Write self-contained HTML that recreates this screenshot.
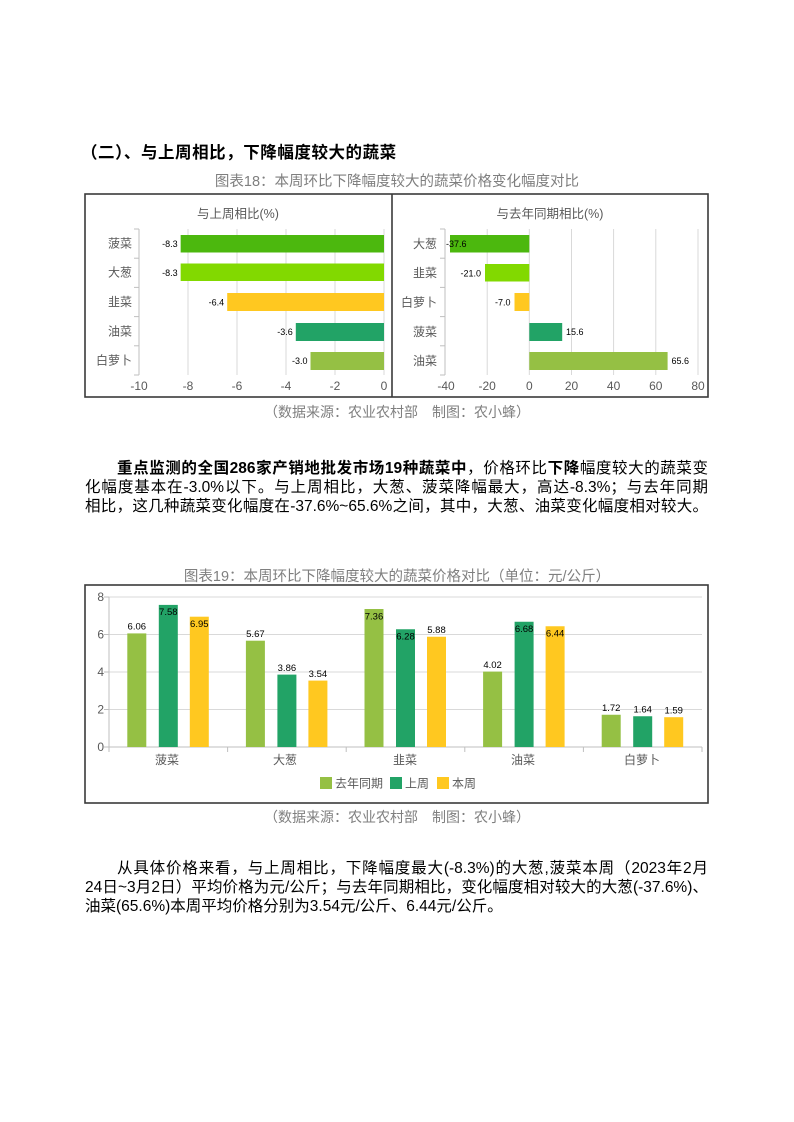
<!DOCTYPE html>
<html><head><meta charset="utf-8">
<style>
html,body{margin:0;padding:0;}
body{width:794px;height:1122px;background:#fff;position:relative;overflow:hidden;font-family:"Liberation Sans","Noto Sans CJK SC",sans-serif;}
.t{position:absolute;white-space:nowrap;color:#000;}
.j{position:absolute;font-size:15.5px;line-height:19px;height:19px;text-align:justify;text-align-last:justify;color:#000;}
.cap{position:absolute;left:0;width:794px;text-align:center;color:#7f7f7f;white-space:nowrap;}
svg{position:absolute;left:0;top:0;}
</style></head>
<body>

<div class="t" style="left:81px;top:143px;font-size:16.5px;line-height:20px;font-weight:bold;letter-spacing:0.55px;">（二）、与上周相比，下降幅度较大的蔬菜</div>

<div class="cap" style="top:173px;font-size:14.5px;line-height:18px;">图表18：本周环比下降幅度较大的蔬菜价格变化幅度对比</div>
<div class="cap" style="top:403px;font-size:14px;line-height:18px;">（数据来源：农业农村部　制图：农小蜂）</div>

<div class="j" style="left:117px;top:459px;width:591px;"><b>重点监测的全国286家产销地批发市场19种蔬菜中</b>，价格环比<b>下降</b>幅度较大的蔬菜变</div>
<div class="j" style="left:85px;top:478px;width:623px;">化幅度基本在-3.0%以下。与上周相比，大葱、菠菜降幅最大，高达-8.3%；与去年同期</div>
<div class="j" style="left:85px;top:497px;width:623px;">相比，这几种蔬菜变化幅度在-37.6%~65.6%之间，其中，大葱、油菜变化幅度相对较大。</div>

<div class="cap" style="top:568px;font-size:14.5px;line-height:18px;">图表19：本周环比下降幅度较大的蔬菜价格对比（单位：元/公斤）</div>
<div class="cap" style="top:808px;font-size:14px;line-height:18px;">（数据来源：农业农村部　制图：农小蜂）</div>

<div class="j" style="left:117px;top:859px;width:591px;">从具体价格来看，与上周相比，下降幅度最大(-8.3%)的大葱,菠菜本周（2023年2月</div>
<div class="j" style="left:85px;top:878px;width:623px;">24日~3月2日）平均价格为元/公斤；与去年同期相比，变化幅度相对较大的大葱(-37.6%)、</div>
<div class="t" style="left:85px;top:897px;font-size:15.5px;line-height:19px;">油菜(65.6%)本周平均价格分别为3.54元/公斤、6.44元/公斤。</div>

<svg width="794" height="1122" viewBox="0 0 794 1122" xmlns="http://www.w3.org/2000/svg" font-family="Liberation Sans, Noto Sans CJK SC, sans-serif">
  <!-- Chart 18 box -->
  <rect x="85" y="194" width="623" height="203" fill="none" stroke="#3a3a3a" stroke-width="1.6"/>
  <line x1="392" y1="194" x2="392" y2="397" stroke="#3a3a3a" stroke-width="1.6"/>

  <!-- Left panel -->
  <text x="238" y="218" font-size="12.5" fill="#595959" text-anchor="middle">与上周相比(%)</text>
  <g stroke="#d9d9d9" stroke-width="1">
    <line x1="188" y1="229" x2="188" y2="375"/>
    <line x1="237" y1="229" x2="237" y2="375"/>
    <line x1="286" y1="229" x2="286" y2="375"/>
    <line x1="335" y1="229" x2="335" y2="375"/>
    <line x1="384" y1="229" x2="384" y2="375"/>
  </g>
  <g stroke="#bfbfbf" stroke-width="1">
    <line x1="139" y1="229" x2="139" y2="375"/>
    <line x1="134" y1="229" x2="139" y2="229"/>
    <line x1="134" y1="258.2" x2="139" y2="258.2"/>
    <line x1="134" y1="287.4" x2="139" y2="287.4"/>
    <line x1="134" y1="316.6" x2="139" y2="316.6"/>
    <line x1="134" y1="345.8" x2="139" y2="345.8"/>
    <line x1="134" y1="375" x2="139" y2="375"/>
  </g>
  <rect x="180.65" y="235" width="203.35" height="17.5" fill="#4cb80e"/>
  <rect x="180.65" y="263.5" width="203.35" height="17.5" fill="#82d900"/>
  <rect x="227.2" y="293" width="156.8" height="18" fill="#ffc820"/>
  <rect x="295.8" y="323" width="88.2" height="18" fill="#22a366"/>
  <rect x="310.5" y="352" width="73.5" height="18" fill="#95c044"/>
  <g font-size="9" fill="#000" text-anchor="end">
    <text x="177.6" y="247">-8.3</text>
    <text x="177.6" y="276">-8.3</text>
    <text x="224.2" y="305.5">-6.4</text>
    <text x="292.8" y="335">-3.6</text>
    <text x="307.5" y="364">-3.0</text>
  </g>
  <g font-size="12" fill="#595959" text-anchor="end">
    <text x="132" y="247.5">菠菜</text>
    <text x="132" y="276.5">大葱</text>
    <text x="132" y="306">韭菜</text>
    <text x="132" y="335.5">油菜</text>
    <text x="132" y="364.5">白萝卜</text>
  </g>
  <g font-size="12" fill="#595959" text-anchor="middle">
    <text x="139" y="390">-10</text>
    <text x="188" y="390">-8</text>
    <text x="237" y="390">-6</text>
    <text x="286" y="390">-4</text>
    <text x="335" y="390">-2</text>
    <text x="384" y="390">0</text>
  </g>

  <!-- Right panel -->
  <text x="550" y="218" font-size="12.5" fill="#595959" text-anchor="middle">与去年同期相比(%)</text>
  <g stroke="#d9d9d9" stroke-width="1">
    <line x1="487.2" y1="229" x2="487.2" y2="375"/>
    <line x1="529.3" y1="229" x2="529.3" y2="375"/>
    <line x1="571.5" y1="229" x2="571.5" y2="375"/>
    <line x1="613.6" y1="229" x2="613.6" y2="375"/>
    <line x1="655.8" y1="229" x2="655.8" y2="375"/>
    <line x1="698" y1="229" x2="698" y2="375"/>
  </g>
  <g stroke="#bfbfbf" stroke-width="1">
    <line x1="445" y1="229" x2="445" y2="375"/>
    <line x1="440" y1="229" x2="445" y2="229"/>
    <line x1="440" y1="258.2" x2="445" y2="258.2"/>
    <line x1="440" y1="287.4" x2="445" y2="287.4"/>
    <line x1="440" y1="316.6" x2="445" y2="316.6"/>
    <line x1="440" y1="345.8" x2="445" y2="345.8"/>
    <line x1="440" y1="375" x2="445" y2="375"/>
  </g>
  <rect x="450" y="235" width="79.3" height="17.5" fill="#4cb80e"/>
  <rect x="485" y="264" width="44.3" height="17.5" fill="#82d900"/>
  <rect x="514.5" y="293" width="14.8" height="18" fill="#ffc820"/>
  <rect x="529.3" y="323" width="32.9" height="18" fill="#22a366"/>
  <rect x="529.3" y="352" width="138.3" height="18" fill="#95c044"/>
  <g font-size="9" fill="#000">
    <text x="446" y="247">-37.6</text>
    <text x="481" y="276.5" text-anchor="end">-21.0</text>
    <text x="510.5" y="305.5" text-anchor="end">-7.0</text>
    <text x="566" y="335">15.6</text>
    <text x="671.5" y="364">65.6</text>
  </g>
  <g font-size="12" fill="#595959" text-anchor="end">
    <text x="437" y="248">大葱</text>
    <text x="437" y="277">韭菜</text>
    <text x="437" y="306.5">白萝卜</text>
    <text x="437" y="336">菠菜</text>
    <text x="437" y="365">油菜</text>
  </g>
  <g font-size="12" fill="#595959" text-anchor="middle">
    <text x="446" y="390">-40</text>
    <text x="487.2" y="390">-20</text>
    <text x="529.3" y="390">0</text>
    <text x="571.5" y="390">20</text>
    <text x="613.6" y="390">40</text>
    <text x="655.8" y="390">60</text>
    <text x="698" y="390">80</text>
  </g>

  <!-- Chart 19 -->
  <rect x="85" y="585" width="623" height="218" fill="none" stroke="#3a3a3a" stroke-width="1.6"/>
  <g stroke="#d9d9d9" stroke-width="1">
    <line x1="109" y1="597" x2="702" y2="597"/>
    <line x1="109" y1="634.5" x2="702" y2="634.5"/>
    <line x1="109" y1="672" x2="702" y2="672"/>
    <line x1="109" y1="709.5" x2="702" y2="709.5"/>
  </g>
  <g stroke="#bfbfbf" stroke-width="1">
    <line x1="109" y1="597" x2="109" y2="747"/>
    <line x1="104" y1="597" x2="109" y2="597"/>
    <line x1="104" y1="634.5" x2="109" y2="634.5"/>
    <line x1="104" y1="672" x2="109" y2="672"/>
    <line x1="104" y1="709.5" x2="109" y2="709.5"/>
    <line x1="104" y1="747" x2="109" y2="747"/>
    <line x1="109" y1="747" x2="702" y2="747"/>
    <line x1="109" y1="747" x2="109" y2="752"/>
    <line x1="227.6" y1="747" x2="227.6" y2="752"/>
    <line x1="346.2" y1="747" x2="346.2" y2="752"/>
    <line x1="464.8" y1="747" x2="464.8" y2="752"/>
    <line x1="583.4" y1="747" x2="583.4" y2="752"/>
    <line x1="702" y1="747" x2="702" y2="752"/>
  </g>
  <g font-size="12" fill="#595959" text-anchor="end">
    <text x="104" y="601">8</text>
    <text x="104" y="638.5">6</text>
    <text x="104" y="676">4</text>
    <text x="104" y="713.5">2</text>
    <text x="104" y="751">0</text>
  </g>
  <!-- bars -->
  <g>
    <rect x="127.3" y="633.4" width="19" height="113.6" fill="#95c044"/>
    <rect x="158.8" y="604.9" width="19" height="142.1" fill="#22a366"/>
    <rect x="189.8" y="616.7" width="19" height="130.3" fill="#ffc820"/>

    <rect x="245.9" y="640.7" width="19" height="106.3" fill="#95c044"/>
    <rect x="277.4" y="674.6" width="19" height="72.4" fill="#22a366"/>
    <rect x="308.4" y="680.6" width="19" height="66.4" fill="#ffc820"/>

    <rect x="364.5" y="609" width="19" height="138" fill="#95c044"/>
    <rect x="396" y="629.25" width="19" height="117.75" fill="#22a366"/>
    <rect x="427" y="636.75" width="19" height="110.25" fill="#ffc820"/>

    <rect x="483.1" y="671.6" width="19" height="75.4" fill="#95c044"/>
    <rect x="514.6" y="621.75" width="19" height="125.25" fill="#22a366"/>
    <rect x="545.6" y="626.25" width="19" height="120.75" fill="#ffc820"/>

    <rect x="601.7" y="714.75" width="19" height="32.25" fill="#95c044"/>
    <rect x="633.2" y="716.25" width="19" height="30.75" fill="#22a366"/>
    <rect x="664.2" y="717.2" width="19" height="29.8" fill="#ffc820"/>
  </g>
  <g font-size="9.5" fill="#000" text-anchor="middle">
    <text x="136.8" y="629.7">6.06</text>
    <text x="168.3" y="615.2">7.58</text>
    <text x="199.3" y="627">6.95</text>

    <text x="255.4" y="637">5.67</text>
    <text x="286.9" y="670.9">3.86</text>
    <text x="317.9" y="676.9">3.54</text>

    <text x="374" y="619.3">7.36</text>
    <text x="405.5" y="639.5">6.28</text>
    <text x="436.5" y="633">5.88</text>

    <text x="492.6" y="667.9">4.02</text>
    <text x="524.1" y="632">6.68</text>
    <text x="555.1" y="636.5">6.44</text>

    <text x="611.2" y="711">1.72</text>
    <text x="642.7" y="712.5">1.64</text>
    <text x="673.7" y="713.5">1.59</text>
  </g>
  <g font-size="12" fill="#595959" text-anchor="middle">
    <text x="167" y="764">菠菜</text>
    <text x="285" y="764">大葱</text>
    <text x="405" y="764">韭菜</text>
    <text x="523" y="764">油菜</text>
    <text x="642" y="764">白萝卜</text>
  </g>
  <!-- legend -->
  <rect x="320" y="777" width="12" height="12" fill="#95c044"/>
  <text x="335" y="787.5" font-size="12" fill="#595959">去年同期</text>
  <rect x="390" y="777" width="12" height="12" fill="#22a366"/>
  <text x="405" y="787.5" font-size="12" fill="#595959">上周</text>
  <rect x="437" y="777" width="12" height="12" fill="#ffc820"/>
  <text x="452" y="787.5" font-size="12" fill="#595959">本周</text>
</svg>
</body></html>
